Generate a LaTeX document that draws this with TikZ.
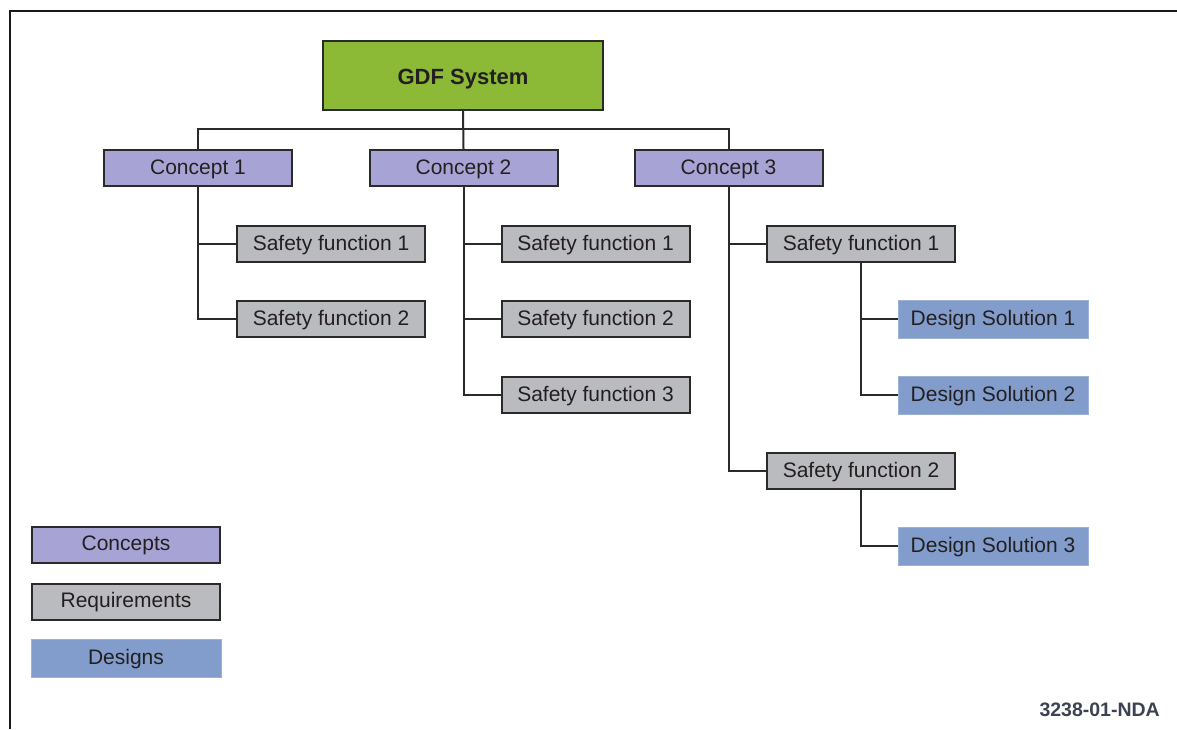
\documentclass[tikz,border=0pt]{standalone}
\usepackage{fontspec}
\setmainfont{Liberation Sans}
\definecolor{gdfgreen}{HTML}{8CBA36}
\definecolor{conceptc}{HTML}{A7A3D5}
\definecolor{reqc}{HTML}{B9BBBE}
\definecolor{designc}{HTML}{829DCC}
\definecolor{edgec}{HTML}{2A2A2A}
\definecolor{txtc}{HTML}{231F20}
\definecolor{codec}{HTML}{3B4352}
\tikzset{
  basebox/.style={minimum width=188pt, minimum height=36pt, inner sep=0pt, text=txtc,
    text height=15pt, text depth=2.4pt,
    font=\fontsize{21}{25}\selectfont},
  conceptbox/.style={basebox, draw=edgec, line width=2pt, fill=conceptc},
  reqbox/.style={basebox, draw=edgec, line width=2pt, fill=reqc},
  designbox/.style={basebox, minimum width=190pt, minimum height=38pt, fill=designc, draw=designc!80!white, line width=0.6pt},
  topbox/.style={draw=edgec, line width=2pt, fill=gdfgreen, minimum width=280pt, minimum height=69pt,
    inner sep=0pt, text=txtc, text height=18pt, text depth=0.4pt, font=\fontsize{22}{26}\selectfont\bfseries},
  conn/.style={draw=edgec, line width=2pt},
  framel/.style={draw=black!90, line width=2pt}
}
\begin{document}
\begin{tikzpicture}[x=1pt,y=-1pt]
\useasboundingbox (0,0) rectangle (1177,729);
\fill[white] (0,0) rectangle (1177,729);
\draw[framel] (10,729) -- (10,11) -- (1177,11);

\node[topbox] (g) at (463,75.5) {GDF System};

\node[conceptbox] (c1) at (198,168) {Concept 1};
\node[conceptbox] (c2) at (463.5,168) {Concept 2};
\node[conceptbox] (c3) at (728.5,168) {Concept 3};

\node[reqbox] (c1s1) at (331,244) {Safety function 1};
\node[reqbox] (c1s2) at (331,319) {Safety function 2};

\node[reqbox] (c2s1) at (595.5,244) {Safety function 1};
\node[reqbox] (c2s2) at (595.5,319) {Safety function 2};
\node[reqbox] (c2s3) at (595.5,395) {Safety function 3};

\node[reqbox] (c3s1) at (861,244) {Safety function 1};
\node[reqbox] (c3s2) at (861,471) {Safety function 2};

\node[designbox] (d1) at (993,319) {Design Solution 1};
\node[designbox] (d2) at (993,395) {Design Solution 2};
\node[designbox] (d3) at (993,546) {Design Solution 3};

\node[conceptbox] (lc) at (126,544.5) {Concepts};
\node[reqbox] (lr) at (126,601.5) {Requirements};
\node[designbox] (ld) at (126,658) {Designs};

\node[anchor=base east, inner sep=0pt, text=codec, font=\fontsize{19.5}{22}\selectfont\bfseries] (code) at (1160,716.5) {3238-01-NDA};

% connectors
\coordinate (bus) at (463,129);
\draw[conn] (g.south) -- (c2.north);
\draw[conn] (c1.north) |- (bus) -| (c3.north);

\draw[conn] (c1.south) |- (c1s1.west);
\draw[conn] (c1.south) |- (c1s2.west);

\draw[conn] (c2.south) |- (c2s1.west);
\draw[conn] (c2.south) |- (c2s2.west);
\draw[conn] (c2.south) |- (c2s3.west);

\draw[conn] (c3.south) |- (c3s1.west);
\draw[conn] (c3.south) |- (c3s2.west);

\draw[conn] (c3s1.south) |- (d1.west);
\draw[conn] (c3s1.south) |- (d2.west);
\draw[conn] (c3s2.south) |- (d3.west);
\end{tikzpicture}
\end{document}
